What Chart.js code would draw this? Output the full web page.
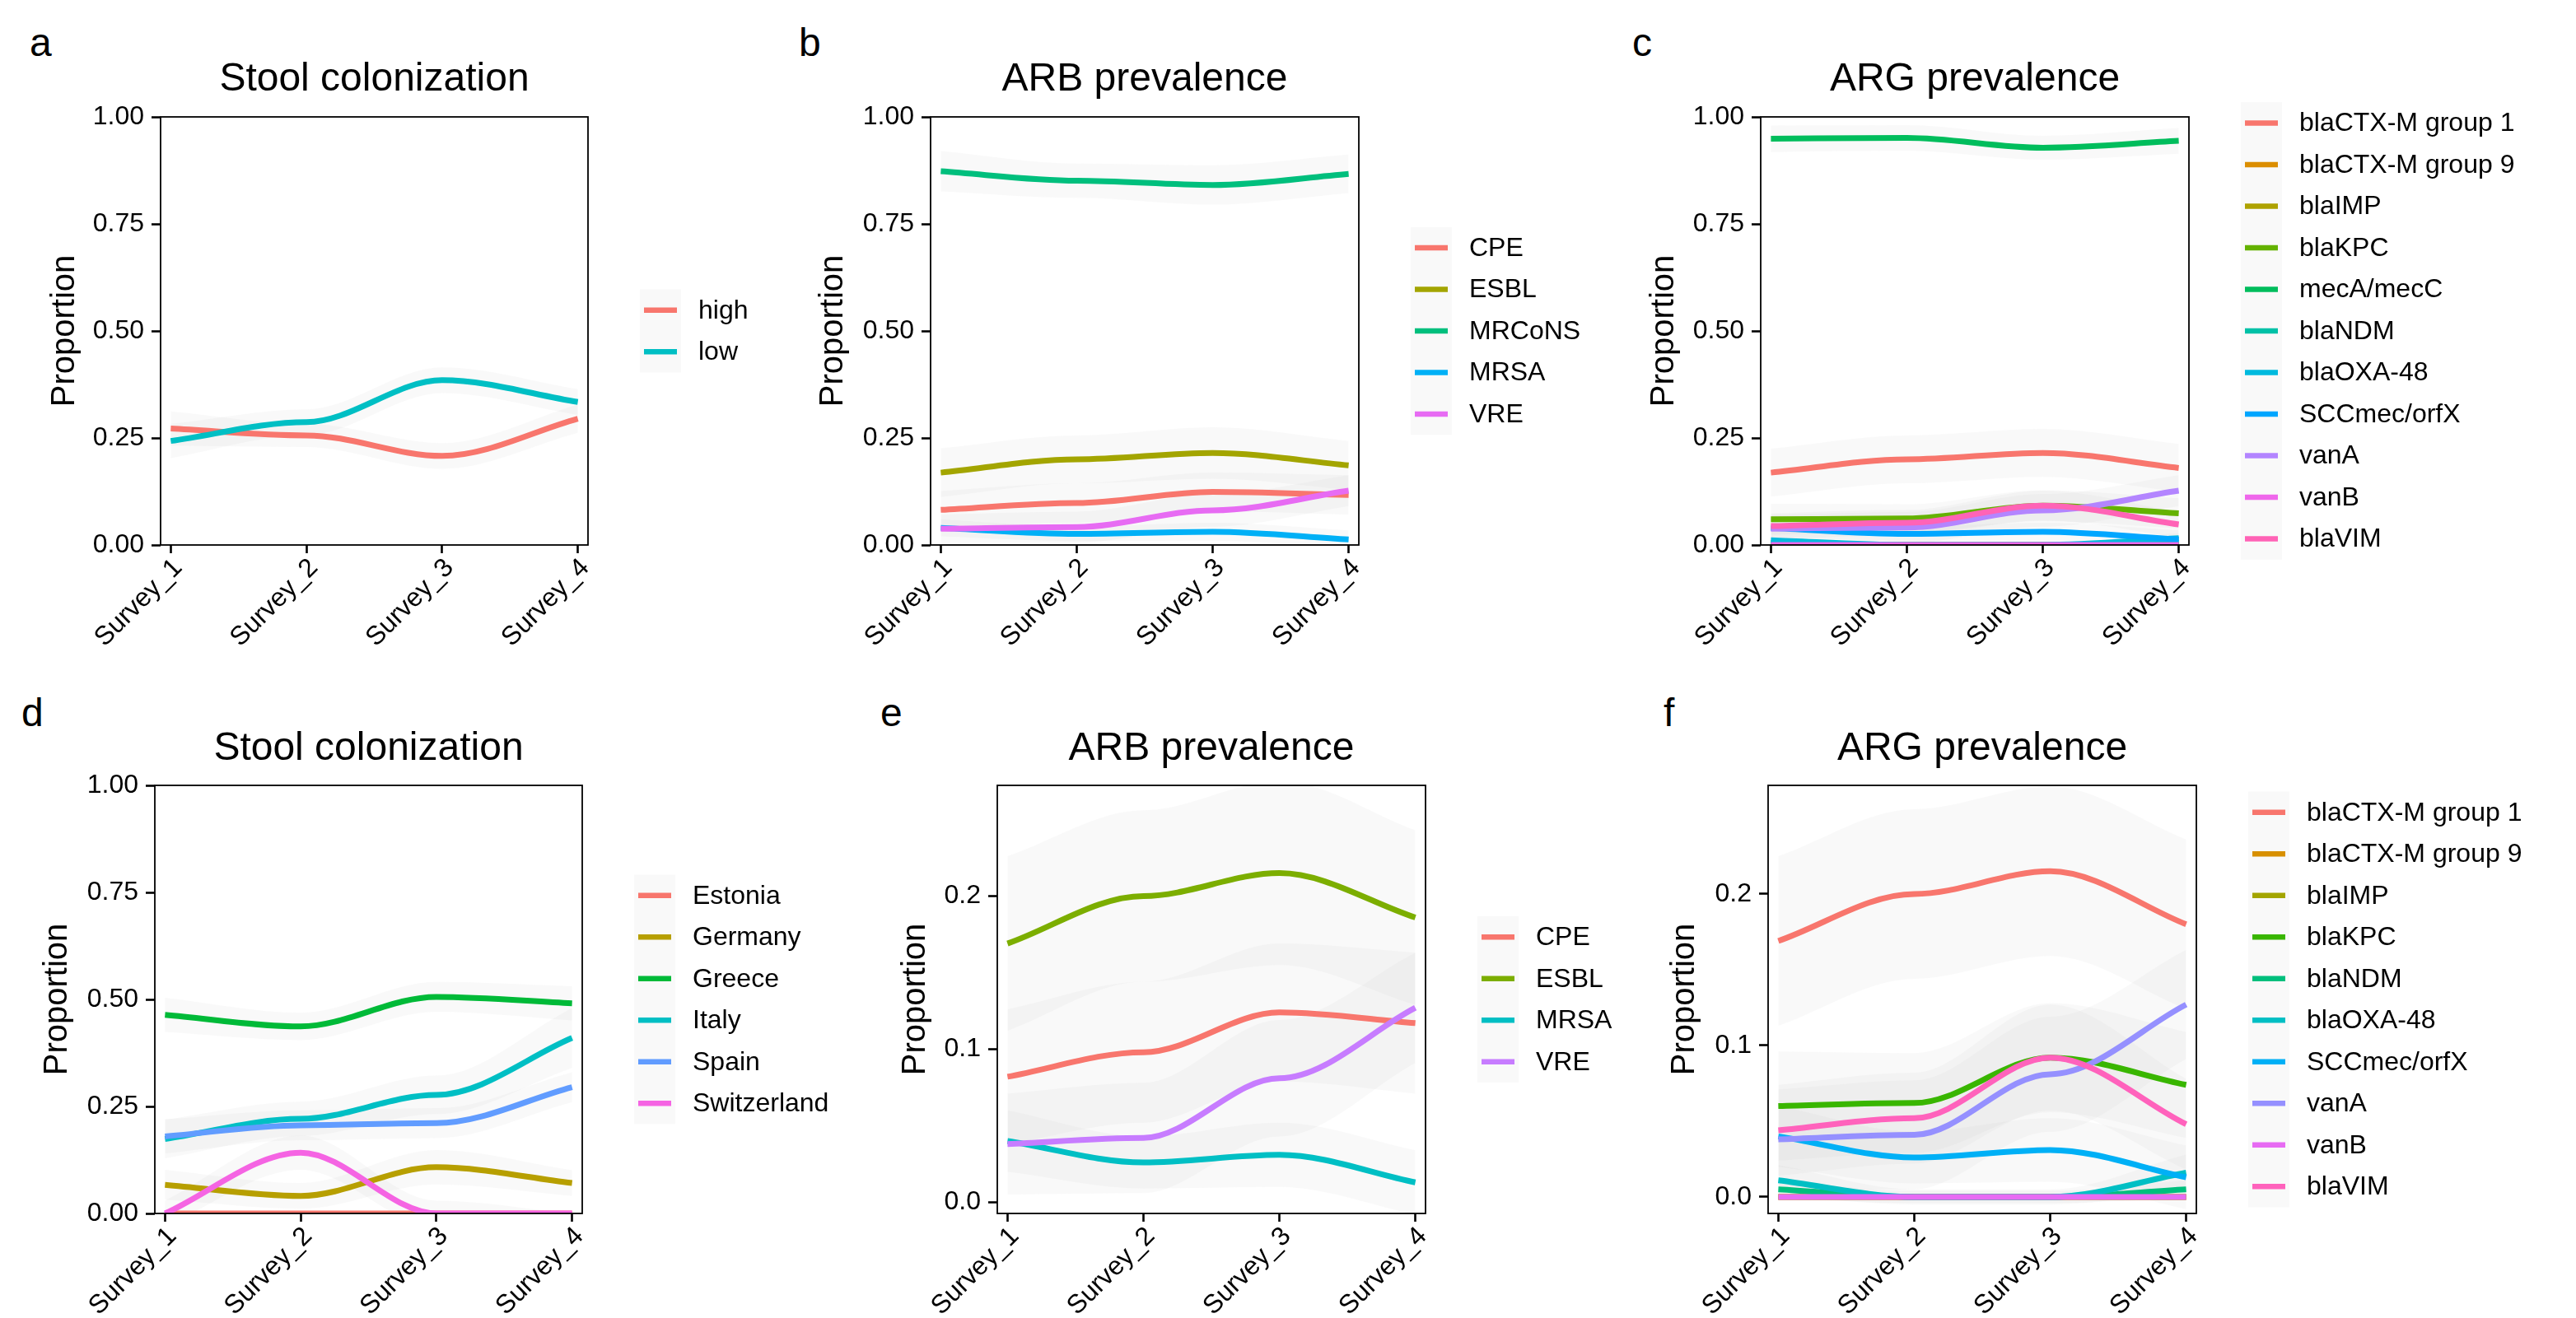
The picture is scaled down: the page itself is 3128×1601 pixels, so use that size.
<!DOCTYPE html>
<html><head><meta charset="utf-8">
<script src="https://cdn.jsdelivr.net/npm/chart.js@4.4.1/dist/chart.umd.min.js"></script>
<style>
html,body{margin:0;padding:0;background:#fff;}
body{width:3128px;height:1601px;position:relative;overflow:hidden;}
canvas{position:absolute;}
.lbl{position:absolute;font-family:'Liberation Sans',Arial,sans-serif;font-size:48px;line-height:48px;color:#000;}
</style></head><body>
<div class="lbl" style="left:36px;top:28px">a</div>
<div class="lbl" style="left:970px;top:28px">b</div>
<div class="lbl" style="left:1982px;top:28px">c</div>
<div class="lbl" style="left:26px;top:842px">d</div>
<div class="lbl" style="left:1069px;top:842px">e</div>
<div class="lbl" style="left:2020px;top:842px">f</div>
<script>
// ---------- shared categories ----------
const surveys = ['Survey_1', 'Survey_2', 'Survey_3', 'Survey_4'];
const surveyX = [0, 1, 2, 3];
const ticksProp = [0, 0.25, 0.5, 0.75, 1];
const ticksSmall = [0, 0.1, 0.2];

// ---------- panel a: stool colonization by level ----------
const aNames = ['high', 'low'];
const aHigh = [0.272, 0.256, 0.208, 0.295];
const aLow = [0.243, 0.287, 0.385, 0.334];
const aHighSe = [0.040, 0.027, 0.030, 0.033];
const aLowSe = [0.040, 0.030, 0.030, 0.030];

// ---------- ARB prevalence (panels b, e) ----------
const arbCPE = [0.082, 0.098, 0.124, 0.117];
const arbESBL = [0.169, 0.200, 0.215, 0.186];
const arbMRCoNS = [0.873, 0.851, 0.841, 0.867];
const arbMRSA = [0.040, 0.026, 0.031, 0.013];
const arbVRE = [0.038, 0.042, 0.081, 0.127];
const arbCPESe = [0.044, 0.046, 0.045, 0.046];
const arbESBLSe = [0.057, 0.056, 0.060, 0.057];
const arbMRCoNSSe = [0.047, 0.040, 0.046, 0.045];
const arbMRSASe = [0.020, 0.017, 0.021, 0.021];
const arbVRESe = [0.033, 0.036, 0.038, 0.036];

// ---------- ARG prevalence (panels c, f) ----------
const argCTX1 = [0.169, 0.200, 0.215, 0.180];
const argCTX9 = [0, 0, 0, 0];
const argIMP = [0, 0, 0, 0];
const argKPC = [0.060, 0.062, 0.092, 0.074];
const argMecA = [0.949, 0.951, 0.928, 0.944];
const argNDM = [0.005, 0, 0, 0.005];
const argOXA = [0.011, 0, 0, 0.016];
const argSCC = [0.040, 0.026, 0.031, 0.013];
const argVanA = [0.038, 0.041, 0.081, 0.127];
const argVanB = [0, 0, 0, 0];
const argVIM = [0.044, 0.052, 0.092, 0.048];
const argCTX1Se = [0.056, 0.056, 0.056, 0.056];
const argKPCSe = [0.036, 0.033, 0.036, 0.035];
const argMecASe = [0.031, 0.030, 0.028, 0.030];
const argNDMSe = [0.006, 0.004, 0.004, 0.006];
const argOXASe = [0.010, 0.005, 0.005, 0.012];
const argSCCSe = [0.020, 0.017, 0.021, 0.021];
const argVanASe = [0.033, 0.036, 0.038, 0.036];
const argVIMSe = [0.030, 0.030, 0.035, 0.030];
const zeroSe = [0, 0, 0, 0];

// ---------- panel d: stool colonization by country ----------
const dNames = ['Estonia', 'Germany', 'Greece', 'Italy', 'Spain', 'Switzerland'];
const dEstonia = [0, 0, 0, 0];
const dGermany = [0.067, 0.041, 0.108, 0.071];
const dGreece = [0.464, 0.437, 0.506, 0.491];
const dItaly = [0.174, 0.221, 0.277, 0.410];
const dSpain = [0.180, 0.206, 0.211, 0.295];
const dSwitzerland = [0, 0.142, 0, 0];
const dGermanySe = [0.035, 0.030, 0.040, 0.030];
const dGreeceSe = [0.040, 0.032, 0.035, 0.040];
const dItalySe = [0.045, 0.040, 0.045, 0.070];
const dSpainSe = [0.040, 0.035, 0.035, 0.035];
const dSwitzerlandSe = [0.030, 0.040, 0.030, 0];

// ---------- colours (ggplot hue palettes) ----------
const pal2 = ['#F8766D', '#00BFC4'];
const pal4 = ['#F8766D', '#7CAE00', '#00BFC4', '#C77CFF'];
const pal5 = ['#F8766D', '#A3A500', '#00BF7D', '#00B0F6', '#E76BF3'];
const pal6 = ['#F8766D', '#B79F00', '#00BA38', '#00BFC4', '#619CFF', '#F564E3'];
const pal10 = ['#F8766D', '#D89000', '#A3A500', '#39B600', '#00BF7D', '#00BFC4', '#00B0F6', '#9590FF', '#E76BF3', '#FF62BC'];
const pal11 = ['#F8766D', '#DB8E00', '#AEA200', '#64B200', '#00BD5C', '#00C1A7', '#00BADE', '#00A6FF', '#B385FF', '#EF67EB', '#FF63B6'];
const RIB = 'rgba(153,153,153,0.06)';

Chart.defaults.font.family = "'Liberation Sans', Arial, Helvetica, sans-serif";
Chart.defaults.color = '#000';

function pts(vals, off, sign) {
  return vals.map((v, j) => ({ x: surveyX[j], y: v + (off ? sign * off[j] : 0) }));
}

function buildDatasets(names, values, ses, colors) {
  const ds = [];
  const n = names.length;
  names.forEach((nm, i) => {
    if (ses[i].some(s => s > 0)) {
      ds.push({ label: nm + '_u', data: pts(values[i], ses[i], 1), borderWidth: 0, pointRadius: 0,
        fill: '+1', backgroundColor: RIB, borderColor: 'rgba(0,0,0,0)', order: 1000 + i,
        cubicInterpolationMode: 'monotone', clip: 0 });
      ds.push({ label: nm + '_l', data: pts(values[i], ses[i], -1), borderWidth: 0, pointRadius: 0,
        fill: false, borderColor: 'rgba(0,0,0,0)', order: 1000 + i,
        cubicInterpolationMode: 'monotone', clip: 0 });
    }
  });
  names.forEach((nm, i) => {
    ds.push({ label: nm, data: pts(values[i]), borderColor: colors[i], borderWidth: 7, pointRadius: 0,
      fill: false, cubicInterpolationMode: 'monotone', order: n - i, clip: 0 });
  });
  return ds;
}

// smooth curve: flat tangents at inner survey points, natural-ish slope at the ends
const smoothPlugin = {
  id: 'smoothCurve',
  beforeDatasetsDraw(chart) {
    chart.getSortedVisibleDatasetMetas().forEach(meta => {
      const line = meta.dataset, p = meta.data;
      if (!line || !p || p.length < 2) return;
      const n = p.length;
      for (let j = 0; j < n; j++) {
        const c = p[j];
        if (j > 0) {
          const q = p[j - 1];
          c.cp1x = c.x - (c.x - q.x) / 3;
          c.cp1y = (j === n - 1) ? c.y - (c.y - q.y) / 3 : c.y;
        }
        if (j < n - 1) {
          const r = p[j + 1];
          c.cp2x = c.x + (r.x - c.x) / 3;
          c.cp2y = (j === 0) ? c.y + (r.y - c.y) / 3 : c.y;
        }
      }
      line._pointsUpdated = true;
      line._path = undefined;
    });
  }
};

const framePlugin = {
  id: 'frame',
  afterDraw(chart, args, opts) {
    const { ctx, chartArea: a } = chart;
    ctx.save();
    ctx.strokeStyle = '#000';
    ctx.lineWidth = 1.8;
    ctx.strokeRect(a.left, a.top, a.right - a.left, a.bottom - a.top);
    const n = opts.names.length, sp = 50.5;
    const mid = (a.top + a.bottom) / 2;
    const y0 = mid - (n - 1) * sp / 2;
    const bl = a.right + 63;
    ctx.fillStyle = RIB;
    ctx.fillRect(bl, y0 - sp / 2, 50, n * sp);
    ctx.font = "32px 'Liberation Sans', Arial, sans-serif";
    ctx.textBaseline = 'middle';
    ctx.textAlign = 'left';
    opts.names.forEach((nm, i) => {
      const y = y0 + i * sp;
      ctx.strokeStyle = opts.colors[i];
      ctx.lineWidth = 6.5;
      ctx.beginPath();
      ctx.moveTo(bl + 5, y);
      ctx.lineTo(bl + 45, y);
      ctx.stroke();
      ctx.fillStyle = '#000';
      ctx.fillText(nm, bl + 71, y + 1);
    });
    ctx.restore();
  }
};

function makeChart(p) {
  const cv = document.createElement('canvas');
  cv.width = p.cw; cv.height = p.ch;
  cv.style.left = p.cl + 'px'; cv.style.top = p.ct + 'px';
  cv.style.width = p.cw + 'px'; cv.style.height = p.ch + 'px';
  document.body.appendChild(cv);
  const tickGrid = (len) => ({ display: true, drawOnChartArea: false, drawTicks: true, tickLength: len,
    tickWidth: 2.6, tickColor: '#000', color: '#000' });
  new Chart(cv, {
    type: 'line',
    data: { datasets: buildDatasets(p.names, p.values, p.ses, p.colors) },
    options: {
      responsive: false, animation: false, devicePixelRatio: 1,
      events: [],
      layout: { padding: { left: 0, top: 0, right: p.padRight, bottom: 0 } },
      plugins: {
        legend: { display: false }, tooltip: { enabled: false },
        title: { display: true, text: p.title, fullSize: false, color: '#000',
          font: { size: 48, weight: 'normal' }, padding: { top: p.tPadTop, bottom: p.tPadBottom } },
        frame: { names: p.names, colors: p.colors }
      },
      scales: {
        x: {
          type: 'linear', min: -0.075, max: 3.075,
          afterBuildTicks: s => { s.ticks = surveyX.map(v => ({ value: v })); },
          afterFit: s => { s.height = p.xh; },
          ticks: { callback: v => surveys[Math.round(v)], minRotation: 45, maxRotation: 45, autoSkip: false,
            font: { size: 32 }, color: '#000', padding: -1, labelOffset: 9 },
          grid: tickGrid(10),
          border: { display: false }
        },
        y: {
          type: 'linear', min: p.ymin, max: p.ymax,
          afterBuildTicks: s => { s.ticks = p.yticks.map(v => ({ value: v })); },
          afterFit: s => { s.width = 180; },
          ticks: { callback: v => v.toFixed(p.dec), font: { size: 32 }, color: '#000', padding: 9 },
          grid: tickGrid(11),
          border: { display: false },
          title: { display: true, text: 'Proportion', color: '#000', font: { size: 40 },
            padding: { top: p.yPadTop, bottom: 0 } }
        }
      }
    },
    plugins: [smoothPlugin, framePlugin]
  });
}

const rowTop = { ct: 0, ch: 800, tPadTop: 68.3, tPadBottom: 16.1, xh: 138 };
const rowBot = { ct: 800, ch: 801, tPadTop: 81.2, tPadBottom: 15.2, xh: 127 };

makeChart(Object.assign({}, rowTop, {
  cl: 15, cw: 935, padRight: 236, yPadTop: 39.6, title: 'Stool colonization',
  names: aNames, values: [aHigh, aLow], ses: [aHighSe, aLowSe], colors: pal2,
  ymin: 0, ymax: 1, yticks: ticksProp, dec: 2 }));

makeChart(Object.assign({}, rowTop, {
  cl: 950, cw: 1008, padRight: 308, yPadTop: 37.7, title: 'ARB prevalence',
  names: ['CPE', 'ESBL', 'MRCoNS', 'MRSA', 'VRE'],
  values: [arbCPE, arbESBL, arbMRCoNS, arbMRSA, arbVRE],
  ses: [arbCPESe, arbESBLSe, arbMRCoNSSe, arbMRSASe, arbVRESe], colors: pal5,
  ymin: 0, ymax: 1, yticks: ticksProp, dec: 2 }));

makeChart(Object.assign({}, rowTop, {
  cl: 1958, cw: 1170, padRight: 470, yPadTop: 39.1, title: 'ARG prevalence',
  names: ['blaCTX-M group 1', 'blaCTX-M group 9', 'blaIMP', 'blaKPC', 'mecA/mecC', 'blaNDM', 'blaOXA-48', 'SCCmec/orfX', 'vanA', 'vanB', 'blaVIM'],
  values: [argCTX1, argCTX9, argIMP, argKPC, argMecA, argNDM, argOXA, argSCC, argVanA, argVanB, argVIM],
  ses: [argCTX1Se, zeroSe, zeroSe, argKPCSe, argMecASe, argNDMSe, argOXASe, argSCCSe, argVanASe, zeroSe, argVIMSe],
  colors: pal11, ymin: 0, ymax: 1, yticks: ticksProp, dec: 2 }));

makeChart(Object.assign({}, rowBot, {
  cl: 8, cw: 1023, padRight: 324, yPadTop: 37.8, title: 'Stool colonization',
  names: dNames, values: [dEstonia, dGermany, dGreece, dItaly, dSpain, dSwitzerland],
  ses: [zeroSe, dGermanySe, dGreeceSe, dItalySe, dSpainSe, dSwitzerlandSe], colors: pal6,
  ymin: 0, ymax: 1, yticks: ticksProp, dec: 2 }));

makeChart(Object.assign({}, rowBot, {
  cl: 1031, cw: 936, padRight: 236, yPadTop: 56.8, title: 'ARB prevalence',
  names: ['CPE', 'ESBL', 'MRSA', 'VRE'],
  values: [arbCPE, arbESBL, arbMRSA, arbVRE],
  ses: [arbCPESe, arbESBLSe, arbMRSASe, arbVRESe], colors: pal4,
  ymin: -0.0073, ymax: 0.2723, yticks: ticksSmall, dec: 1 }));

makeChart(Object.assign({}, rowBot, {
  cl: 1967, cw: 1161, padRight: 461, yPadTop: 54.8, title: 'ARG prevalence',
  names: ['blaCTX-M group 1', 'blaCTX-M group 9', 'blaIMP', 'blaKPC', 'blaNDM', 'blaOXA-48', 'SCCmec/orfX', 'vanA', 'vanB', 'blaVIM'],
  values: [argCTX1, argCTX9, argIMP, argKPC, argNDM, argOXA, argSCC, argVanA, argVanB, argVIM],
  ses: [argCTX1Se, zeroSe, zeroSe, argKPCSe, argNDMSe, argOXASe, argSCCSe, argVanASe, zeroSe, argVIMSe],
  colors: pal10, ymin: -0.0109, ymax: 0.2717, yticks: ticksSmall, dec: 1 }));
</script>
</body></html>
